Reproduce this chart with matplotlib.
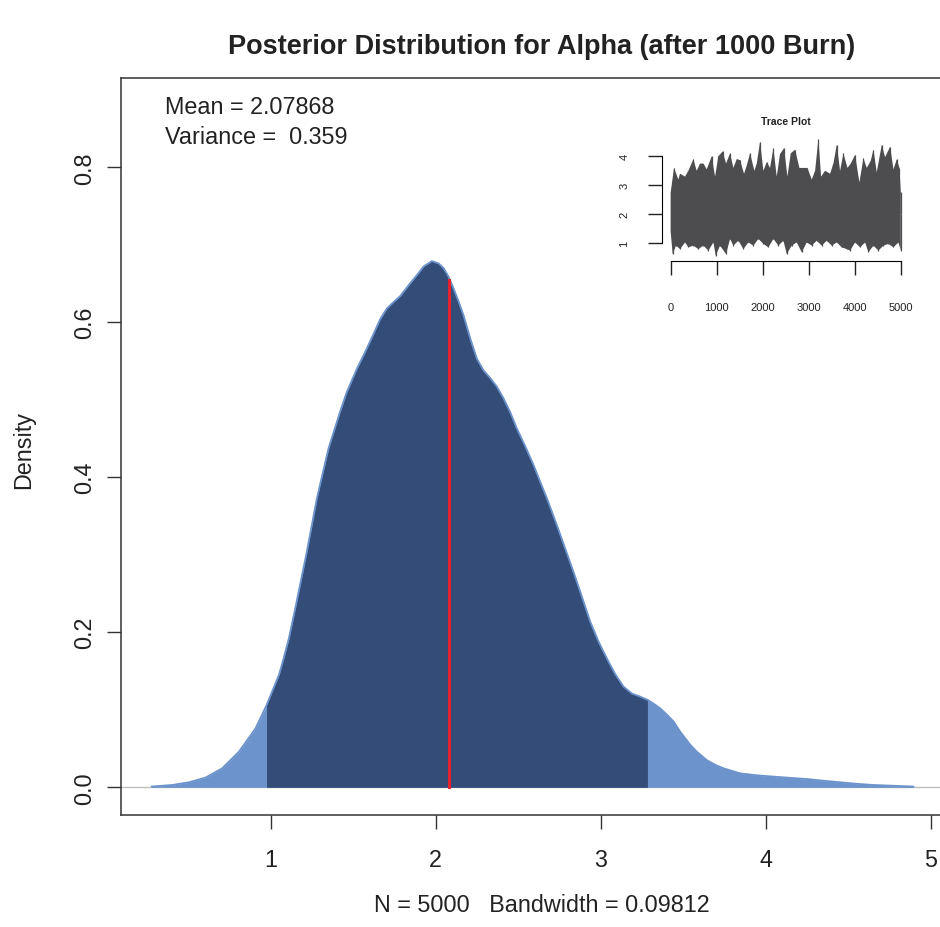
import numpy as np
import matplotlib
matplotlib.use("Agg")
import matplotlib.pyplot as plt

plt.rcParams['font.family'] = ['Liberation Sans', 'DejaVu Sans']

#data -------------------------------------------------------------------------
#kernel density of the alpha draws (x, density)
dens_x = [0.279, 0.405, 0.506, 0.606, 0.707, 0.809, 0.909, 0.976, 1.051, 1.079,
          1.111, 1.150, 1.220, 1.281, 1.351, 1.382, 1.422, 1.462, 1.523, 1.574,
          1.624, 1.664, 1.705, 1.745, 1.786, 1.837, 1.887, 1.927, 1.977, 2.018,
          2.048, 2.078, 2.108, 2.139, 2.169, 2.210, 2.250, 2.290, 2.331, 2.371,
          2.411, 2.452, 2.492, 2.543, 2.593, 2.634, 2.674, 2.735, 2.785, 2.835,
          2.886, 2.936, 2.987, 3.038, 3.088, 3.138, 3.189, 3.239, 3.283, 3.320,
          3.360, 3.400, 3.441, 3.481, 3.542, 3.582, 3.643, 3.694, 3.744, 3.845,
          3.946, 4.047, 4.148, 4.249, 4.350, 4.451, 4.551, 4.652, 4.773, 4.895]
dens_y = [0.001, 0.003, 0.0065, 0.0125, 0.0245, 0.046, 0.076, 0.106, 0.145, 0.166,
          0.192, 0.231, 0.304, 0.373, 0.437, 0.458, 0.485, 0.510, 0.540, 0.562,
          0.585, 0.604, 0.618, 0.626, 0.634, 0.648, 0.661, 0.672, 0.679, 0.676,
          0.670, 0.659, 0.644, 0.627, 0.609, 0.579, 0.553, 0.538, 0.528, 0.517,
          0.502, 0.484, 0.463, 0.440, 0.416, 0.394, 0.373, 0.338, 0.308, 0.278,
          0.246, 0.214, 0.188, 0.166, 0.146, 0.130, 0.121, 0.117, 0.113, 0.108,
          0.102, 0.094, 0.085, 0.072, 0.055, 0.046, 0.035, 0.029, 0.0245, 0.018,
          0.0155, 0.0138, 0.0122, 0.0107, 0.0085, 0.0065, 0.0045, 0.003, 0.002, 0.001]
ci_lo, ci_hi = 0.976, 3.283          #shaded credible interval
post_mean = 2.07868
post_var = 0.359
mean_height = 0.655                  #density at the mean
n_samples = 5000
bandwidth = 0.09812

#trace plot: upper and lower spikes of the chain
trace_hi_iter = [0, 72, 167, 203, 312, 384, 493, 565, 638, 710,
                 783, 891, 964, 1036, 1130, 1203, 1290, 1362, 1435, 1507,
                 1594, 1652, 1725, 1819, 1870, 1942, 2014, 2087, 2159, 2232,
                 2304, 2377, 2464, 2536, 2609, 2703, 2797, 2884, 2971, 3065,
                 3138, 3210, 3268, 3355, 3464, 3536, 3609, 3681, 3754, 3841,
                 3913, 4007, 4101, 4188, 4261, 4348, 4406, 4478, 4587, 4659,
                 4768, 4841, 4913, 4971, 5000]
trace_hi = [2.76, 3.6, 3.2, 3.4, 3.3, 3.5, 3.9, 3.5, 3.75, 3.75,
            3.55, 4.0, 3.3, 4.0, 4.17, 3.75, 4.1, 3.6, 3.9, 3.87,
            3.4, 3.68, 4.1, 3.5, 3.75, 4.5, 3.5, 3.8, 3.6, 4.28,
            3.3, 4.08, 4.28, 3.3, 4.1, 4.23, 3.6, 3.6, 3.6, 3.2,
            3.5, 4.6, 3.3, 3.5, 3.4, 3.75, 4.4, 3.5, 4.1, 3.6,
            3.75, 4.05, 3.1, 3.93, 3.6, 3.85, 4.23, 3.45, 4.4, 3.97,
            4.33, 3.55, 3.9, 3.6, 2.76]
trace_lo_iter = [0, 43, 116, 203, 312, 384, 493, 601, 710, 819,
                 928, 978, 1072, 1203, 1290, 1362, 1471, 1580, 1688, 1797,
                 1906, 2014, 2123, 2232, 2341, 2449, 2522, 2630, 2739, 2848,
                 2957, 3065, 3174, 3283, 3391, 3500, 3609, 3717, 3826, 3899,
                 4007, 4116, 4225, 4297, 4406, 4514, 4623, 4732, 4841, 4949,
                 5000]
trace_lo = [1.38, 0.63, 0.92, 0.8, 1.03, 0.86, 0.92, 0.8, 0.92, 0.75,
            1.03, 0.57, 0.92, 0.63, 1.15, 0.92, 1.09, 0.8, 1.03, 0.92,
            1.15, 0.98, 0.86, 1.15, 0.92, 1.09, 0.63, 0.92, 1.03, 0.69,
            1.03, 0.92, 1.09, 0.92, 1.09, 0.92, 1.03, 0.86, 0.8, 0.75,
            1.03, 0.86, 1.03, 0.69, 0.92, 0.75, 0.92, 0.98, 0.86, 1.03,
            0.75]

#colours
light = "#6C93CB"
dark = "#344D78"
red = "#E6232A"
grey = "#4D4D4F"

#figure -----------------------------------------------------------------------
W, H = 940, 928
fig = plt.figure(figsize=(W/100, H/100), dpi=100)

def px_box(l, t, r, b):
    """axes rect from pixel edges"""
    return [l/W, 1-b/H, (r-l)/W, (b-t)/H]

fs = 16.8

###main density plot###
ax = fig.add_axes(px_box(121, 79, 944.1, 815.6))
dx = np.array(dens_x)
dy = np.array(dens_y)
ax.axhline(0, color="#BEBEBE", lw=1, zorder=0)
ax.fill_between(dx, dy, 0, color=light, lw=0, zorder=1)
ax.fill_between(dx, dy, 0, where=(dx >= ci_lo) & (dx <= ci_hi), color=dark, lw=0, zorder=2)
ax.plot(dx, dy, color=light, lw=1.3, solid_capstyle="round", solid_joinstyle="round", zorder=3)
ax.plot([post_mean, post_mean], [0, mean_height], color=red, lw=2.2, zorder=4)

ax.set_xlim(0.0944, 5.08)
ax.set_ylim(-0.0352, 0.9152)
ax.set_xticks([1, 2, 3, 4, 5])
ax.set_yticks([0, 0.2, 0.4, 0.6, 0.8])
ax.set_yticklabels(["0.0", "0.2", "0.4", "0.6", "0.8"], rotation=90, va="center")
ax.tick_params(axis="both", length=10, width=1, color="#333333", labelsize=fs, labelcolor="#222222")
ax.tick_params(axis="x", pad=14)
ax.tick_params(axis="y", pad=8)
for s in ax.spines.values():
    s.set_color("#333333")
    s.set_linewidth(1.1)

fig.text(165/W, 1-107/H, f"Mean = {post_mean}", fontsize=fs, va="center", ha="left", color="#222222")
fig.text(165/W, 1-138/H, f"Variance =  {post_var}", fontsize=fs, va="center", ha="left", color="#222222")

fig.text(542/W, 1-47/H, "Posterior Distribution for Alpha (after 1000 Burn)",
         fontsize=19.5, fontweight="bold", ha="center", va="center", color="#222222")
fig.text(542/W, 1-906/H, f"N = {n_samples}   Bandwidth = {bandwidth}",
         fontsize=fs, ha="center", va="center", color="#222222")
fig.text(24/W, 1-450/H, "Density", fontsize=fs, rotation=90, ha="center", va="center", color="#222222")

###inset trace plot###
ax2 = fig.add_axes(px_box(661.5, 134.7, 910, 261.7))
poly_x = trace_hi_iter + trace_lo_iter[::-1]
poly_y = trace_hi + trace_lo[::-1]
ax2.fill(poly_x, poly_y, color=grey, lw=0)
ax2.vlines(trace_hi_iter, 2, trace_hi, color=grey, lw=0.9)
ax2.vlines(trace_lo_iter, trace_lo, 2, color=grey, lw=0.9)
ax2.set_xlim(-200, 5200)
ax2.set_ylim(0.40, 4.78)
ax2.patch.set_alpha(0)
for side in ["top", "right"]:
    ax2.spines[side].set_visible(False)
ax2.spines["left"].set_bounds(1, 4)
ax2.spines["bottom"].set_bounds(0, 5000)
ax2.set_xticks([0, 1000, 2000, 3000, 4000, 5000])
ax2.set_yticks([1, 2, 3, 4])
ax2.set_yticklabels(["1", "2", "3", "4"], rotation=90, va="center")
ax2.tick_params(axis="both", length=10, width=1, color="#222222", labelsize=8, labelcolor="#222222")
ax2.tick_params(axis="x", pad=20)
ax2.tick_params(axis="y", pad=13)
fig.text(785.7/W, 1-121.7/H, "Trace Plot", fontsize=7.5, fontweight="bold",
         ha="center", va="center", color="#222222")

fig.savefig("out.png", dpi=100)
